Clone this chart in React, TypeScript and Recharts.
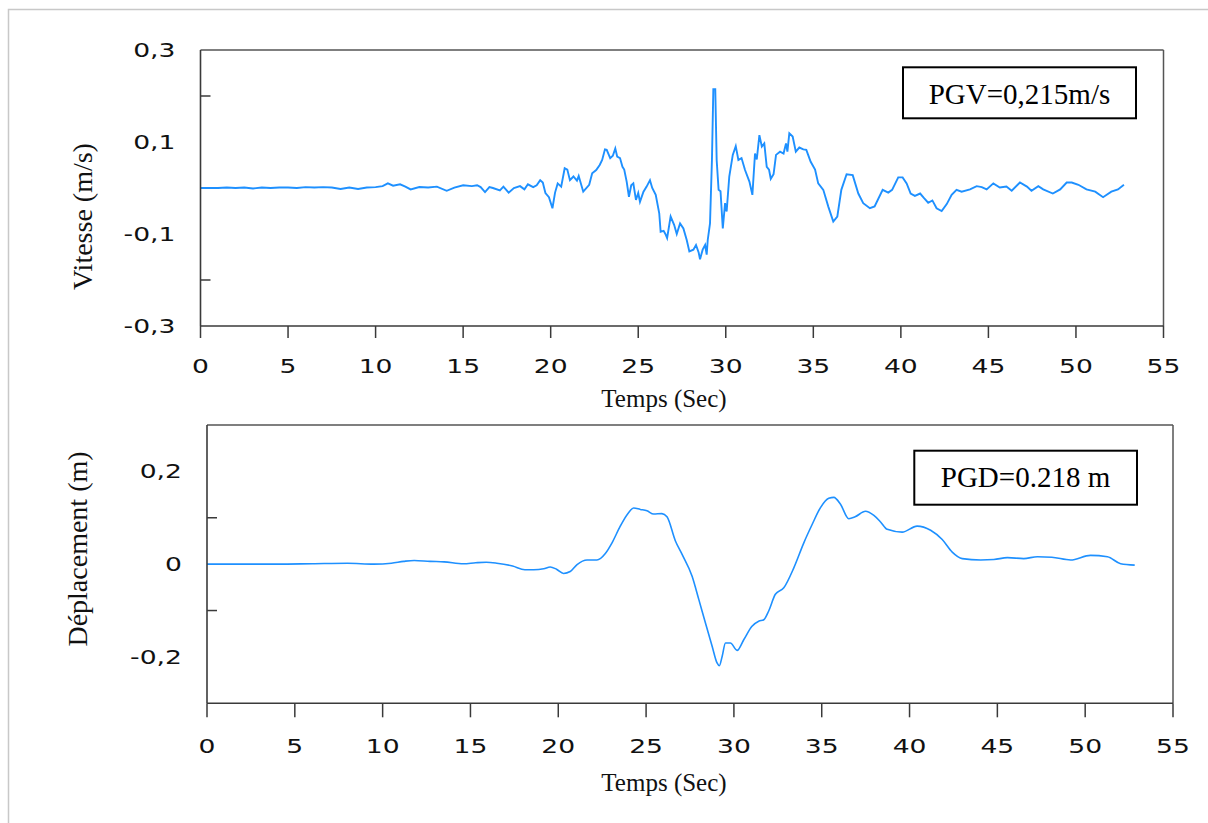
import React from 'react';
import { LineChart, Line, XAxis, YAxis, ReferenceLine } from 'recharts';

// ---------- data ----------
const velTimes = [0,0.5,1,1.5,2,2.5,3,3.5,4,4.5,5,5.5,6,6.5,7,7.5,8,8.5,9,9.5,10,10.4,10.7,11,11.4,11.7,12,12.5,13,13.5,14.06,14.5,15,15.5,15.8,16,16.25,16.5,16.7,17.1,17.3,17.6,17.9,18.25,18.5,18.7,19.0,19.2,19.4,19.55,19.7,19.9,20.1,20.25,20.4,20.6,20.8,20.95,21.1,21.3,21.5,21.6,21.86,22.2,22.37,22.6,22.8,22.94,23.1,23.2,23.4,23.55,23.69,23.8,23.96,24.1,24.2,24.34,24.47,24.6,24.72,24.87,25.0,25.1,25.3,25.48,25.67,25.8,26.0,26.2,26.28,26.45,26.55,26.65,26.85,27.05,27.2,27.39,27.58,27.77,27.92,28.15,28.3,28.45,28.53,28.68,28.82,28.91,28.97,29.1,29.21,29.29,29.4,29.48,29.59,29.7,29.83,29.96,30.05,30.2,30.4,30.57,30.72,30.9,31.1,31.35,31.52,31.67,31.77,31.92,32.06,32.2,32.34,32.47,32.57,32.73,32.87,33.1,33.3,33.44,33.52,33.63,33.82,34.0,34.2,34.43,34.6,34.85,35.1,35.28,35.57,35.86,36.14,36.37,36.6,36.9,37.25,37.57,37.85,38.23,38.5,38.96,39.28,39.5,39.85,40.1,40.33,40.56,40.8,41.1,41.3,41.56,41.8,42.04,42.33,42.62,42.9,43.18,43.47,43.95,44.33,44.62,44.9,45.28,45.65,46.03,46.33,46.8,47.2,47.46,47.85,48.13,48.68,49.1,49.47,49.76,50.14,50.6,51.1,51.55,52.02,52.4,52.74];
const velValues = [0,0,0,0.001,0,0.001,-0.001,0.001,0,0.001,0.001,0,0.002,0.001,0.002,0.001,-0.002,0.001,-0.002,0.001,0.002,0.004,0.01,0.005,0.008,0.003,-0.003,0.002,0.001,0.003,-0.006,0.001,0.006,0.004,0.006,0.002,-0.009,0.002,0,-0.005,0.003,-0.01,0,0.004,-0.003,0.008,0.002,0.006,0.017,0.012,-0.011,-0.02,-0.044,-0.01,0.01,0.003,0.043,0.04,0.017,0.025,0.016,0.026,-0.008,0.007,0.032,0.039,0.05,0.061,0.084,0.083,0.065,0.07,0.086,0.068,0.065,0.046,0.04,0.014,-0.019,0.006,0.01,-0.026,-0.011,-0.03,-0.008,0.003,0.017,0,-0.015,-0.055,-0.095,-0.093,-0.1,-0.109,-0.062,-0.08,-0.1,-0.077,-0.088,-0.113,-0.138,-0.134,-0.124,-0.14,-0.155,-0.134,-0.124,-0.145,-0.113,-0.077,0.061,0.215,0.215,0.061,-0.004,-0.007,-0.088,-0.033,-0.051,0.025,0.072,0.091,0.061,0.065,0.039,0.014,-0.015,0.075,0.062,0.115,0.09,0.097,0.046,0.04,0.02,0.03,0.072,0.079,0.075,0.097,0.079,0.119,0.112,0.079,0.088,0.084,0.083,0.057,0.04,0.01,-0.004,-0.041,-0.073,-0.062,-0.004,0.03,0.028,-0.012,-0.033,-0.044,-0.04,-0.004,-0.01,-0.004,0.023,0.023,0.01,-0.012,-0.017,-0.012,-0.021,-0.032,-0.027,-0.044,-0.05,-0.035,-0.015,-0.004,-0.008,-0.003,0.004,0.002,-0.003,0.01,0.001,0.003,-0.006,0.012,0.003,-0.006,0.004,-0.003,-0.012,-0.003,0.012,0.012,0.007,-0.003,-0.008,-0.02,-0.008,-0.003,0.007];

const dispTimes = [0,2,4,6,8,9.5,10.5,11.2,11.8,12.7,13.5,14.6,15.3,15.9,16.5,17.4,18.1,18.6,19.17,19.54,19.9,20.3,20.68,21.07,21.64,22.2,22.68,23.06,23.53,24.0,24.29,24.67,25.05,25.43,25.9,26.19,26.67,27.05,27.62,28.0,28.38,28.76,29.04,29.17,29.33,29.52,29.8,30.18,30.56,31.03,31.41,31.7,31.98,32.36,32.84,33.41,33.98,34.46,34.93,35.4,35.69,36.07,36.54,36.9,37.49,37.97,38.35,38.73,39.58,40.43,41.2,41.86,42.43,43.0,44.05,44.8,45.57,46.5,47.28,48.1,49.17,50.3,51.27,52.02,52.82];
const dispValues = [0,0,0,0.001,0.002,0,0.002,0.006,0.008,0.006,0.005,0.001,0.003,0.004,0.002,-0.004,-0.012,-0.012,-0.01,-0.006,-0.011,-0.02,-0.016,-0.001,0.009,0.009,0.023,0.046,0.082,0.111,0.121,0.118,0.115,0.108,0.109,0.102,0.05,0.021,-0.026,-0.076,-0.127,-0.177,-0.213,-0.219,-0.199,-0.17,-0.17,-0.186,-0.163,-0.134,-0.123,-0.12,-0.101,-0.065,-0.051,-0.008,0.046,0.086,0.122,0.142,0.144,0.129,0.098,0.102,0.114,0.105,0.091,0.075,0.069,0.082,0.073,0.053,0.026,0.012,0.009,0.01,0.014,0.012,0.016,0.015,0.009,0.019,0.016,0.001,-0.002];

const xTicks = [0,5,10,15,20,25,30,35,40,45,50,55];
const yTicks = [-0.3,-0.2,-0.1,0,0.1,0.2,0.3];
const velLabeled = [-0.3,-0.1,0.1,0.3];
const velMinor = [-0.2,0.2];
const dispLabeled = [-0.2,0,0.2];
const dispMinor = [-0.1,0.1];

const velData = velTimes.map((t, i) => ({ t, v: velValues[i] }));
const dispData = dispTimes.map((t, i) => ({ t, v: dispValues[i] }));

// ---------- styling ----------
const SANS = '"DejaVu Sans", Verdana, sans-serif';
const SERIF = '"Liberation Serif", "Times New Roman", serif';
const AXIS = '#3a3a3a';
const LINE = '#1E90FF';
const SX = 1.4;
const TICK_FS = 19;
const Y_GAP = 25;

const fmt = (v: number) => (Math.abs(v) < 1e-9 ? '0' : v.toFixed(1).replace('.', ','));
const has = (arr: number[], v: number) => arr.some((a) => Math.abs(a - v) < 1e-9);

const makeYTick = (labeled: number[], minor: number[]) => (props: any) => {
  const { x, y, payload } = props;
  const v = payload.value;
  return (
    <g>
      {has(labeled, v) && (
        <text
          transform={`translate(${x},${y}) scale(${SX},1)`}
          textAnchor="end"
          dy="0.36em"
          fontFamily={SANS}
          fontSize={TICK_FS}
          fill="#111"
        >
          {fmt(v)}
        </text>
      )}
      {has(minor, v) && (
        <line x1={x + Y_GAP} x2={x + Y_GAP + 10} y1={y} y2={y} stroke={AXIS} strokeWidth={1.5} />
      )}
    </g>
  );
};

const XTick = (props: any) => {
  const { x, y, payload } = props;
  return (
    <text
      transform={`translate(${x},${y}) scale(${SX},1)`}
      textAnchor="middle"
      dy="0.72em"
      fontFamily={SANS}
      fontSize={TICK_FS}
      fill="#111"
    >
      {payload.value}
    </text>
  );
};

export default function App() {
  return (
    <div style={{ position: 'absolute', left: 0, top: 0, width: 1208, height: 823, background: '#fff', overflow: 'hidden' }}>
      <div style={{ position: 'absolute', left: 0, top: 0 }}>
        <LineChart width={1208} height={420} margin={{ top: 50, right: 44.5, bottom: 0, left: 0 }}>
          <XAxis
            dataKey="t"
            type="number"
            domain={[0, 55]}
            ticks={xTicks}
            interval={0}
            allowDataOverflow
            height={94}
            tickSize={12}
            tickMargin={21}
            axisLine={{ stroke: AXIS, strokeWidth: 1.6 }}
            tickLine={{ stroke: AXIS, strokeWidth: 1.5 }}
            tick={<XTick />}
          />
          <YAxis
            type="number"
            domain={[-0.3, 0.3]}
            ticks={yTicks}
            interval={0}
            allowDataOverflow
            width={200.5}
            tickSize={0}
            tickMargin={Y_GAP}
            axisLine={{ stroke: AXIS, strokeWidth: 1.6 }}
            tickLine={false}
            tick={makeYTick(velLabeled, velMinor)}
          />
          <ReferenceLine y={0.3} stroke="#555" strokeWidth={1.5} />
          <ReferenceLine x={55} stroke="#555" strokeWidth={1.5} />
          <Line data={velData} dataKey="v" type="linear" stroke={LINE} strokeWidth={1.9} dot={false} isAnimationActive={false} />
        </LineChart>
      </div>
      <div style={{ position: 'absolute', left: 0, top: 400 }}>
        <LineChart width={1208} height={423} margin={{ top: 25, right: 35, bottom: 0, left: 0 }}>
          <XAxis
            dataKey="t"
            type="number"
            domain={[0, 55]}
            ticks={xTicks}
            interval={0}
            allowDataOverflow
            height={119.7}
            tickSize={14}
            tickMargin={22}
            axisLine={{ stroke: AXIS, strokeWidth: 1.6 }}
            tickLine={{ stroke: AXIS, strokeWidth: 1.5 }}
            tick={<XTick />}
          />
          <YAxis
            type="number"
            domain={[-0.3, 0.3]}
            ticks={yTicks}
            interval={0}
            allowDataOverflow
            width={207}
            tickSize={0}
            tickMargin={Y_GAP}
            axisLine={{ stroke: AXIS, strokeWidth: 1.6 }}
            tickLine={false}
            tick={makeYTick(dispLabeled, dispMinor)}
          />
          <ReferenceLine y={0.3} stroke="#555" strokeWidth={1.5} />
          <ReferenceLine x={55} stroke="#555" strokeWidth={1.5} />
          <Line data={dispData} dataKey="v" type="monotone" stroke={LINE} strokeWidth={1.6} dot={false} isAnimationActive={false} />
        </LineChart>
      </div>
      <svg width={1208} height={823} style={{ position: 'absolute', left: 0, top: 0, pointerEvents: 'none' }}>
        <rect x={8.5} y={9.5} width={1220} height={840} fill="none" stroke="#c8c8c8" strokeWidth={1.5} />
        <text transform="translate(92,216.5) rotate(-90)" textAnchor="middle" fontFamily={SERIF} fontSize={28} fill="#111">
          Vitesse (m/s)
        </text>
        <text transform="translate(86.5,549) rotate(-90)" textAnchor="middle" fontFamily={SERIF} fontSize={28} fill="#111">
          Déplacement (m)
        </text>
        <text x={664} y={407} textAnchor="middle" fontFamily={SERIF} fontSize={25} fill="#111">
          Temps (Sec)
        </text>
        <text x={664} y={790.7} textAnchor="middle" fontFamily={SERIF} fontSize={25} fill="#111">
          Temps (Sec)
        </text>
        <rect x={903} y={67.3} width={233} height={51} fill="#fff" stroke="#000" strokeWidth={2} />
        <text x={1019.5} y={104} textAnchor="middle" fontFamily={SERIF} fontSize={29} fill="#000">
          PGV=0,215m/s
        </text>
        <rect x={914.3} y={450.7} width={222.7} height={54} fill="#fff" stroke="#000" strokeWidth={2} />
        <text x={1025.5} y={487} textAnchor="middle" fontFamily={SERIF} fontSize={29} fill="#000">
          PGD=0.218 m
        </text>
      </svg>
    </div>
  );
}
